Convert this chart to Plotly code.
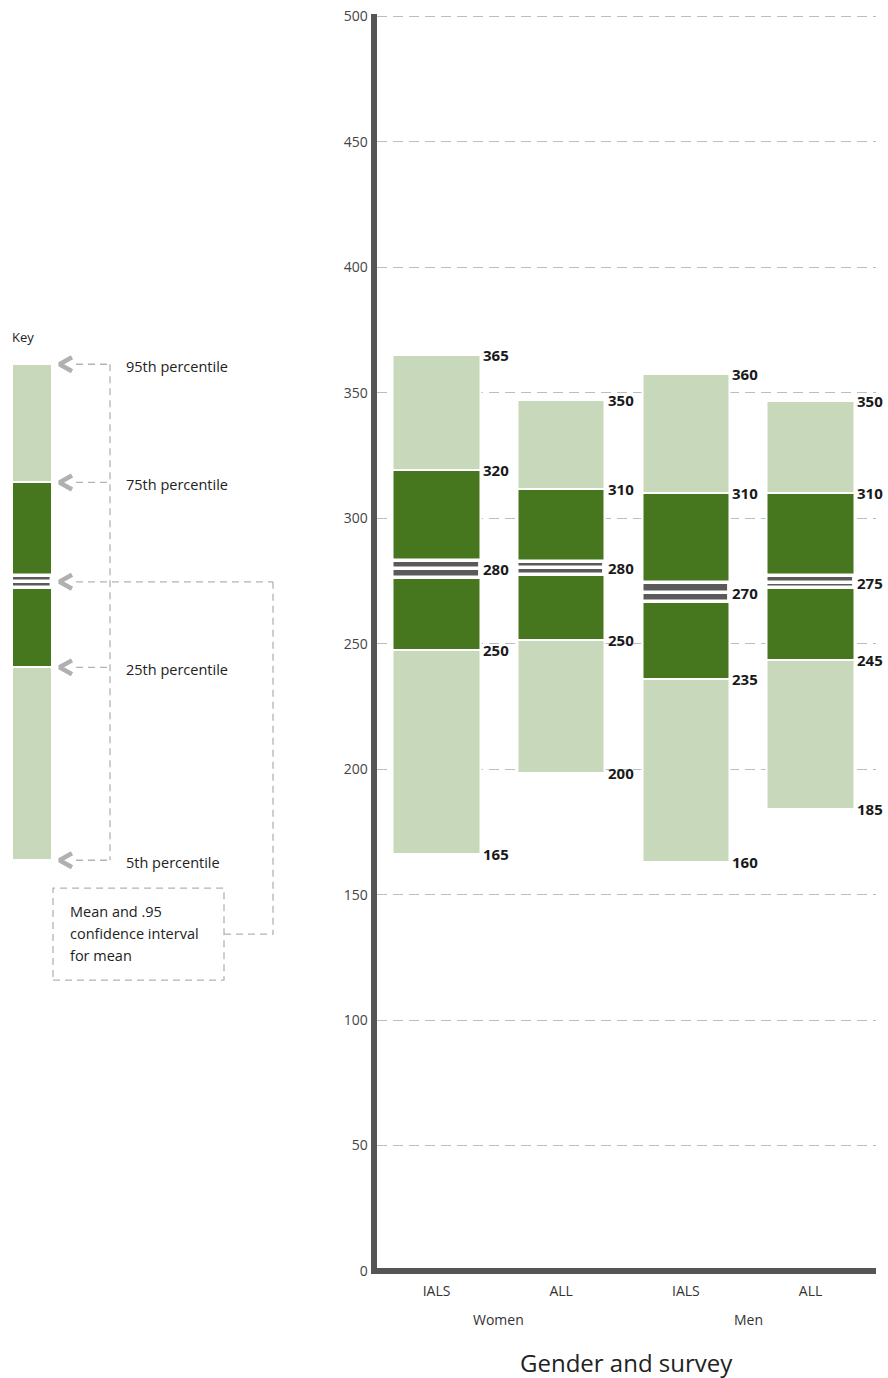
import plotly.graph_objects as go

# ---------------- data ----------------
categories = ["IALS", "ALL", "IALS", "ALL"]
groups = ["Women", "Women", "Men", "Men"]

p5 = [166.4, 198.3, 163.0, 184.1]
p25 = [247.5, 251.4, 236.1, 243.4]
ci_lo = [276.3, 277.4, 266.8, 272.3]
mean = [279.6, 280.0, 270.2, 274.2]
ci_hi = [282.9, 282.5, 274.1, 276.9]
p75 = [319.4, 311.5, 310.1, 310.1]
p95 = [364.9, 347.3, 357.4, 346.7]

lbl_p95 = ["365", "350", "360", "350"]
lbl_p75 = ["320", "310", "310", "310"]
lbl_mean = ["280", "280", "270", "275"]
lbl_p25 = ["250", "250", "235", "245"]
lbl_p5 = ["165", "200", "160", "185"]

y_ticks = [0, 50, 100, 150, 200, 250, 300, 350, 400, 450, 500]

# key (illustrative box, drawn on the same value scale)
key_vals = {"p5": 163.7, "p25": 240.6, "ci_lo": 272.1, "mean": 274.7,
            "ci_hi": 277.0, "p75": 314.3, "p95": 361.4}
key_pct_labels = [("p95", "95th percentile"), ("p75", "75th percentile"),
                  ("p25", "25th percentile"), ("p5", "5th percentile")]
key_box_lines = ["Mean and .95", "confidence interval", "for mean"]

# ---------------- style ----------------
W, H = 888, 1378
ML, MR, MT, MB = 0, 12, 13.5, 104
PW = W - ML - MR
PH = H - MT - MB
Y_LO, Y_HI = -1.2, 501
UPP = (Y_HI - Y_LO) / PH  # value units per pixel

LIGHT = "#c8d8bb"
DARK = "#46761e"
GRAY = "#5a5a5a"
AXIS = "#555555"
GRID = "#bdbdbd"
KEYLINE = "#b3b3b3"
FONT = "Open Sans"
BW = 0.70

fig = go.Figure()


def add_boxes(xs, width, xa, ya, lo, q1, clo, m, chi, q3, hi):
    common = dict(x=xs, width=[width] * len(xs), xaxis=xa, yaxis=ya,
                  hoverinfo="skip", showlegend=False)
    fig.add_trace(go.Bar(y=[b - a for a, b in zip(lo, hi)], base=lo,
                         marker=dict(color=LIGHT, line=dict(color="white", width=2)), **common))
    fig.add_trace(go.Bar(y=[b - a for a, b in zip(q1, q3)], base=q1,
                         marker=dict(color=DARK, line=dict(color="white", width=2)), **common))
    fig.add_trace(go.Bar(y=[b - a for a, b in zip(clo, m)], base=clo,
                         marker=dict(color=GRAY, line=dict(color="white", width=3.4)), **common))
    fig.add_trace(go.Bar(y=[b - a for a, b in zip(m, chi)], base=m,
                         marker=dict(color=GRAY, line=dict(color="white", width=3.4)), **common))


xi = list(range(len(categories)))
add_boxes(xi, BW, "x", "y", p5, p25, ci_lo, mean, ci_hi, p75, p95)

# key bar on hidden axes (x2 in page-pixel units)
add_boxes([32], 40, "x2", "y2", [key_vals["p5"]], [key_vals["p25"]], [key_vals["ci_lo"]],
          [key_vals["mean"]], [key_vals["ci_hi"]], [key_vals["p75"]], [key_vals["p95"]])

annotations = []
# value labels
for i in xi:
    for v, t in [(p95[i], lbl_p95[i]), (p75[i], lbl_p75[i]), (mean[i], lbl_mean[i]),
                 (p25[i], lbl_p25[i]), (p5[i], lbl_p5[i])]:
        annotations.append(dict(x=i + BW / 2, y=v, xref="x", yref="y", text=t,
                                showarrow=False, xanchor="left", yanchor="middle", xshift=1,
                                font=dict(family=FONT, size=15, color="#1a1a1a", weight="bold")))

# group labels
for g in dict.fromkeys(groups):
    idx = [i for i, gg in enumerate(groups) if gg == g]
    annotations.append(dict(x=sum(idx) / len(idx), y=0, xref="x", yref="paper", text=g,
                            showarrow=False, xanchor="center", yanchor="middle", yshift=-45,
                            font=dict(family=FONT, size=14, color="#333")))

x_dom0 = 376.5 / PW
annotations.append(dict(x=(x_dom0 + 1) / 2, y=0, xref="paper", yref="paper",
                        text="Gender and survey", showarrow=False, xanchor="center",
                        yanchor="middle", yshift=-88,
                        font=dict(family=FONT, size=24, color="#222")))

# key texts
annotations.append(dict(x=10, y=372.1, xref="x2", yref="y2", text="Key",
                        showarrow=False, xanchor="left", yanchor="middle",
                        font=dict(family=FONT, size=13, color="#222")))
for k, t in key_pct_labels:
    annotations.append(dict(x=124, y=key_vals[k], xref="x2", yref="y2", text=t,
                            showarrow=False, xanchor="left", yanchor="middle", yshift=-2,
                            font=dict(family=FONT, size=14.5, color="#222")))

box_top = 152.6
box_bot = 115.9
box_mid = (box_top + box_bot) / 2
for j, t in enumerate(key_box_lines):
    annotations.append(dict(x=68, y=box_top - (23 + 22 * j) * UPP, xref="x2", yref="y2", text=t,
                            showarrow=False, xanchor="left", yanchor="middle",
                            font=dict(family=FONT, size=14.5, color="#222")))

shapes = []
kl = dict(color=KEYLINE, width=1.3, dash="7px,5px")
for k, _ in key_pct_labels:
    shapes.append(dict(type="line", xref="x2", yref="y2", x0=76, x1=110,
                       y0=key_vals[k], y1=key_vals[k], line=kl))
shapes.append(dict(type="line", xref="x2", yref="y2", x0=110, x1=110,
                   y0=key_vals["p95"], y1=key_vals["p5"], line=kl))
shapes.append(dict(type="line", xref="x2", yref="y2", x0=76, x1=273,
                   y0=key_vals["mean"], y1=key_vals["mean"], line=kl))
shapes.append(dict(type="line", xref="x2", yref="y2", x0=273, x1=273,
                   y0=key_vals["mean"], y1=box_mid, line=kl))
shapes.append(dict(type="line", xref="x2", yref="y2", x0=224, x1=273,
                   y0=box_mid, y1=box_mid, line=kl))
shapes.append(dict(type="rect", xref="x2", yref="y2", x0=53, x1=224,
                   y0=box_bot, y1=box_top, line=kl))

# chevrons
for k in ["p95", "p75", "mean", "p25", "p5"]:
    v = key_vals[k]
    fig.add_trace(go.Scatter(x=[72, 59.5, 72], y=[v + 7 * UPP, v, v - 7 * UPP], mode="lines",
                             line=dict(color="#b0b0b0", width=4.5), xaxis="x2", yaxis="y2",
                             hoverinfo="skip", showlegend=False))

fig.update_layout(
    width=W, height=H, margin=dict(l=ML, r=MR, t=MT, b=MB),
    paper_bgcolor="white", plot_bgcolor="white",
    barmode="overlay", bargap=0,
    font=dict(family=FONT, size=13, color="#333"),
    xaxis=dict(domain=[x_dom0, 1], range=[-(436.5 - 376.5) / 124.67, (876 - 436.5) / 124.67],
               tickvals=xi, ticktext=categories,
               showline=False, showgrid=False, zeroline=False,
               ticks="", ticklabelstandoff=7,
               tickfont=dict(family=FONT, size=14, color="#333"), anchor="y"),
    yaxis=dict(range=[Y_LO, Y_HI], tickvals=y_ticks, showline=True, linewidth=6, linecolor=AXIS,
               showgrid=True, gridcolor=GRID, gridwidth=1.3, griddash="10px,6px",
               zeroline=True, zerolinewidth=6, zerolinecolor=AXIS,
               ticks="", tickfont=dict(family=FONT, size=14, color="#444"),
               anchor="x"),
    xaxis2=dict(domain=[0, 290.0 / PW], range=[0, 290], visible=False, anchor="y2"),
    yaxis2=dict(matches="y", range=[Y_LO, Y_HI], visible=False, anchor="x2"),
    annotations=annotations, shapes=shapes,
)

fig.write_html("out.html", config={"displayModeBar": False},
               post_script="document.body.style.margin='0';document.body.style.overflow='hidden';")
